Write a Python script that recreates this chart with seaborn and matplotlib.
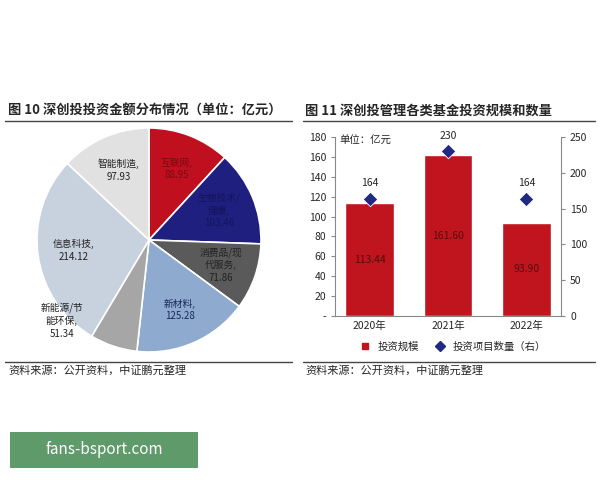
import matplotlib
matplotlib.use("Agg")
import matplotlib.pyplot as plt
import seaborn as sns
import pandas as pd
import numpy as np
from matplotlib.lines import Line2D
from matplotlib.patches import Rectangle

sns.set_style("white")
plt.rcParams['font.family'] = ['Noto Sans CJK SC', 'DejaVu Sans']

pie_labels = ["互联网,\n88.95", "生物技术/\n健康,\n103.46", "消费品/现\n代服务,\n71.86", "新材料,\n125.28", "", "信息科技,\n214.12", "智能制造,\n97.93"]
pie_values = [88.95, 103.46, 71.86, 125.28, 51.34, 214.12, 97.93]
pie_colors = ["#c00f1f", "#1f1f80", "#5a5a5a", "#8eaacf", "#a6a6a6", "#c8d2df", "#e1e1e1"]
pie_text_colors = ["#7a0a12", "#14145a", "#222222", "#1a2a55", "#222222", "#222222", "#222222"]

years = ["2020年", "2021年", "2022年"]
scale = [113.44, 161.60, 93.90]
counts = [164, 230, 164]

fig = plt.figure(figsize=(6, 4.8), dpi=100)
fig.patch.set_facecolor("white")

fig.text(8/600, 1-111/480, "图 10 深创投投资金额分布情况（单位：亿元）", fontsize=9.5, fontweight="bold", va="center")
fig.text(305/600, 1-111/480, "图 11 深创投管理各类基金投资规模和数量", fontsize=9.5, fontweight="bold", va="center")
for x0, x1 in [(5, 292), (303, 595)]:
    fig.add_artist(Line2D([x0/600, x1/600], [1-121/480]*2, color="#444444", lw=1))
    fig.add_artist(Line2D([x0/600, x1/600], [1-362/480]*2, color="#444444", lw=1))
fig.text(8/600, 1-370/480, "资料来源：公开资料，中证鹏元整理", fontsize=8, va="center")
fig.text(305/600, 1-370/480, "资料来源：公开资料，中证鹏元整理", fontsize=8, va="center")

axp = fig.add_axes([(149-112)/600, 1-(240+112)/480, 224/600, 224/480])
axp.pie(pie_values, colors=pie_colors, startangle=90, counterclock=False,
        wedgeprops=dict(edgecolor="white", linewidth=1.2))
ang = 90.0
tot = sum(pie_values)
for v, lab, tc in zip(pie_values, pie_labels, pie_text_colors):
    mid = np.deg2rad(ang - v/tot*180)
    ang -= v/tot*360
    if lab:
        r = 0.68
        axp.text(r*np.cos(mid), r*np.sin(mid), lab, ha="center", va="center", fontsize=7, color=tc, linespacing=1.3)
axp.text(-0.78, -0.72, "新能源/节\n能环保,\n51.34", ha="center", va="center", fontsize=7, color="#222222", linespacing=1.3)
axp.set_xlim(-1.0, 1.0); axp.set_ylim(-1.0, 1.0)
axp.set_aspect("equal")

df = pd.DataFrame({"year": years, "scale": scale, "count": counts})
axb = fig.add_axes([335/600, 1-316/480, 226/600, 179/480])
sns.barplot(data=df, x="year", y="scale", color="#c0141e", width=0.62, ax=axb, saturation=1)
axb.set_ylim(0, 180)
axb.set_yticks(range(0, 181, 20))
axb.set_yticklabels(["-"] + [str(v) for v in range(20, 181, 20)], fontsize=7.5)
axb.set_xlabel(""); axb.set_ylabel("")
axb.tick_params(axis="x", labelsize=7.5, length=0)
for i, v in enumerate(scale):
    axb.text(i, v/2 if i != 1 else 80, f"{v:.2f}", ha="center", va="center", fontsize=7.5, color="#5a0a0a")
axb.text(-0.38, 176, "单位：亿元", fontsize=7.5, va="center")
for s in ["top", "right"]:
    axb.spines[s].set_visible(False)
axb.spines["left"].set_color("#888888"); axb.spines["bottom"].set_color("#888888")
axb.tick_params(axis="y", left=True, length=3, color="#888888")

axr = axb.twinx()
sns.scatterplot(data=df, x="year", y="count", marker="D", s=55, color="#1f2a80", ax=axr, legend=False)
axr.set_ylim(0, 250)
axr.set_yticks(range(0, 251, 50))
axr.tick_params(axis="y", labelsize=7.5, right=True, length=3, color="#888888")
axr.set_ylabel("")
for s in ["top", "left", "bottom"]:
    axr.spines[s].set_visible(False)
axr.spines["right"].set_color("#888888")
for i, v in enumerate(counts):
    axr.text(i, v + 22, str(v), ha="center", va="center", fontsize=7.5)

h1 = Line2D([], [], marker="s", color="#c0141e", ls="", markersize=5)
h2 = Line2D([], [], marker="D", color="#1f2a80", ls="", markersize=5)
fig.legend([h1, h2], ["投资规模", "投资项目数量（右）"], loc="center", bbox_to_anchor=(450/600, 1-347/480),
           ncol=2, frameon=False, fontsize=7.5, handletextpad=0.2, columnspacing=1.0)

fig.add_artist(Rectangle((10/600, 1-468/480), 188/600, 36/480, transform=fig.transFigure,
                         facecolor="#5f9a6b", edgecolor="none"))
fig.text(104/600, 1-450/480, "fans-bsport.com", fontsize=11, color="white", ha="center", va="center")

fig.savefig("out.png", dpi=100, facecolor="white")
